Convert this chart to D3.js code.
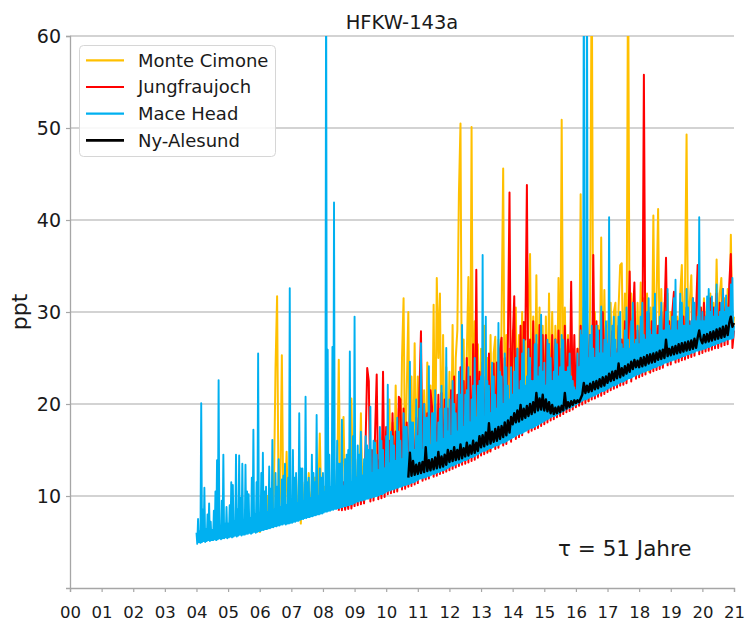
<!DOCTYPE html>
<html>
<head>
<meta charset="utf-8">
<script src="https://cdn.jsdelivr.net/npm/d3@7"></script>
<style>
  html, body { margin: 0; padding: 0; background: #ffffff; }
  svg { display: block; font-family: "DejaVu Sans", sans-serif; }
</style>
</head>
<body>
<svg id="chart" width="746" height="623"></svg>
<script>
// ---------------- data ----------------
const title = "HFKW-143a";
const yLabel = "ppt";
const note = "τ = 51 Jahre";
const xYears = d3.range(2000, 2022);
const xTickLabels = xYears.map(y => String(y % 100).padStart(2, "0"));
const yTickValues = [10, 20, 30, 40, 50, 60];
const seriesNames = ["Monte Cimone", "Jungfraujoch", "Mace Head", "Ny-Alesund"];

// Mace Head, samples every 0.025 yr from 2004.000
const maceHeadStart = 2004.0;
const maceHeadStep = 0.025;
const maceHead = [
  6.0,4.8, 7.5,5.0, 6.2,4.9, 20.1,5.0, 8.5,5.1, 10.9,5.0, 6.4,5.1, 8.0,5.2, 9.2,5.1, 7.2,5.2, 6.3,5.2, 8.4,5.3, 10.5,5.2, 13.9,5.3, 22.6,5.4, 6.8,5.3, 9.5,5.4, 14.5,5.4, 7.0,5.5, 8.8,5.4,
  7.0,5.5, 9.0,5.6, 11.5,5.5, 11.2,5.6, 7.2,5.7, 14.5,5.6, 8.5,5.7, 14.4,5.8, 9.8,5.7, 13.5,5.8, 7.4,5.8, 13.4,5.9, 10.5,5.9, 10.2,6.0, 7.6,5.9, 12.0,6.0, 17.2,6.1, 8.0,6.0, 11.5,6.1, 25.5,6.2,
  8.0,6.2, 12.5,6.3, 14.7,6.3, 10.5,6.4, 11.0,6.4, 8.2,6.5, 13.2,6.5, 10.8,6.6, 16.1,6.6, 8.5,6.7, 12.5,6.7, 11.0,6.8, 14.0,6.8, 8.8,6.9, 11.8,6.9, 12.2,7.0, 13.5,6.9, 9.0,7.0, 12.0,7.0, 32.6,7.1,
  9.0,7.1, 15.0,7.2, 12.0,7.2, 12.5,7.3, 9.2,7.3, 19.0,7.4, 13.0,7.5, 13.0,7.5, 9.5,7.6, 20.8,7.6, 11.5,7.7, 12.0,7.7, 9.8,7.8, 14.5,7.8, 12.5,7.9, 11.5,7.9, 18.8,8.0, 10.0,8.0, 13.0,8.1, 12.0,8.1,
  12.5,8.2, 10.5,8.3, 70,8.3, 25.9,8.4, 14.5,8.4, 11.0,8.5, 26.2,8.5, 41.9,8.6, 10.8,8.6, 16.0,8.7, 13.5,8.7, 13.5,8.8, 18.3,8.8, 11.0,8.9, 14.0,8.9, 14.5,9.0, 15.0,9.0, 25.7,9.1, 11.5,9.1, 16.5,9.2,
  29.5,9.3, 12.0,9.4, 15.5,9.4, 14.5,9.5, 17.0,9.5, 12.2,9.6, 14.0,9.6, 16.5,9.7, 15.5,9.7, 15.0,9.8, 19.7,9.8, 12.5,9.9, 16.0,9.9, 15.8,10.0, 14.5,10.0, 12.8,10.1, 17.5,10.2, 16.0,10.2, 15.0,10.3, 13.0,10.4,
  16.5,10.5, 22.1,10.6, 13.5,10.6, 17.0,10.7, 16.5,10.7, 15.5,10.8, 13.8,10.9, 18.5,10.9, 17.0,11.0, 16.0,11.0, 14.0,11.1, 19.0,11.2, 17.5,11.2, 17.5,11.3, 14.5,11.3, 24.6,11.4, 18.0,11.5, 18.0,11.5, 15.0,11.6, 20.5,11.7,
  16.5,11.8, 19.5,11.9, 26.6,11.9, 15.0,12.0, 20.0,12.0, 18.5,12.1, 18.5,12.2, 24.1,12.2, 15.5,12.3, 19.0,12.4, 19.0,12.4, 21.5,12.5, 15.8,12.6, 18.0,12.6, 19.5,12.7, 22.0,12.8, 16.2,12.8, 19.5,12.9, 26.1,13.0, 17.0,13.1,
  20.5,13.2, 16.5,13.3, 22.5,13.3, 20.0,13.4, 19.0,13.5, 17.0,13.6, 23.5,13.6, 21.0,13.7, 28.6,13.8, 17.5,13.9, 21.0,13.9, 21.5,14.0, 24.0,14.1, 18.0,14.2, 20.5,14.2, 22.0,14.3, 25.0,14.4, 18.5,14.5, 22.0,14.6, 22.5,14.7,
  23.0,14.8, 36.2,14.9, 18.5,14.9, 29.5,15.0, 22.5,15.1, 22.0,15.2, 19.0,15.2, 24.5,15.3, 23.0,15.4, 21.0,15.5, 19.5,15.5, 28.8,15.6, 23.5,15.7, 23.0,15.8, 20.0,15.8, 25.5,15.9, 24.0,16.0, 22.0,16.1, 20.5,16.2, 24.0,16.3,
  21.0,16.4, 23.5,16.5, 25.0,16.6, 26.0,16.7, 21.5,16.8, 22.5,16.8, 25.5,16.9, 27.0,17.0, 22.0,17.1, 23.0,17.2, 26.0,17.3, 25.0,17.4, 22.5,17.4, 22.5,17.5, 26.5,17.6, 27.5,17.7, 23.0,17.8, 24.0,17.9, 29.7,18.0, 23.5,18.1,
  24.5,18.2, 22.0,18.3, 27.0,18.4, 26.5,18.5, 25.0,18.6, 22.5,18.7, 23.5,18.7, 27.0,18.8, 26.5,18.9, 23.0,19.0, 24.0,19.1, 27.5,19.2, 27.0,19.3, 23.5,19.4, 23.5,19.5, 24.0,19.6, 25.5,19.6, 23.0,19.7, 22.5,19.8, 21.8,19.9,
  21.5,20.0, 25.5,20.1, 24.0,20.2, 28.0,20.3, 27.5,20.4, 70,20.5, 24.0,20.5, 70,20.6, 25.0,20.7, 27.5,20.8, 28.5,20.9, 26.0,20.9, 25.0,21.0, 28.5,21.1, 28.0,21.2, 25.5,21.3, 30.6,21.4, 25.5,21.4, 27.0,21.5, 29.0,21.6,
  26.5,21.7, 40.3,21.8, 25.0,21.9, 28.5,22.0, 29.5,22.0, 27.0,22.1, 25.5,22.2, 29.5,22.3, 30.0,22.4, 26.5,22.4, 26.0,22.5, 28.0,22.6, 30.5,22.7, 27.0,22.8, 26.0,22.8, 29.0,22.9, 31.0,23.0, 26.5,23.1, 27.0,23.2, 28.5,23.2,
  26.5,23.3, 29.5,23.4, 31.0,23.5, 27.5,23.5, 27.0,23.6, 30.0,23.7, 31.5,23.7, 28.0,23.8, 27.5,23.9, 30.5,24.0, 32.0,24.0, 27.5,24.1, 27.5,24.2, 29.5,24.2, 31.0,24.3, 28.0,24.4, 28.0,24.5, 30.0,24.5, 32.5,24.6, 28.5,24.7,
  28.0,24.7, 29.5,24.8, 31.5,24.8, 33.5,24.9, 28.0,25.0, 29.0,25.0, 32.0,25.1, 31.0,25.2, 28.5,25.2, 28.5,25.3, 32.5,25.4, 30.5,25.4, 28.5,25.5, 29.0,25.6, 31.5,25.6, 31.0,25.7, 29.0,25.8, 29.5,25.8, 40.3,25.9, 29.0,25.9,
  30.0,26.0, 29.0,26.0, 29.5,26.1, 31.7,26.2, 32.5,26.2, 30.0,26.3, 31.7,26.4, 29.5,26.4, 30.5,26.5, 33.0,26.6, 29.5,26.6, 30.0,26.7, 31.0,26.8, 32.5,26.8, 30.0,26.9, 31.8,27.0, 30.5,27.0, 30.5,27.1, 33.0,27.1, 33.7,27.2,
  28.5
];

// Monte Cimone, samples every 0.05 yr from 2006.00
const monteCimoneStart = 2006.0;
const monteCimoneStep = 0.05;
const monteCimone = [
  6.0, 8.0, 6.7, 9.5, 6.8, 10.0, 6.9, 8.5, 7.0, 11.0, 24.0, 31.7, 7.1, 10.5, 25.3, 7.3, 9.0, 14.8, 7.4, 9.5,
  7.5, 10.0, 7.6, 12.0, 7.7, 9.5, 7.0, 11.5, 7.9, 10.0, 8.0, 12.5, 8.1, 10.5, 8.2, 12.0, 8.3, 10.0, 16.8, 8.4,
  8.6, 11.0, 8.7, 12.5, 8.8, 10.5, 8.9, 13.0, 9.0, 11.0, 24.8, 9.1, 12.0, 18.6, 9.2, 12.5, 9.3, 11.5, 20.6, 9.5,
  12.5, 9.7, 14.0, 9.8, 19.0, 9.9, 13.5, 10.0, 15.0, 10.1, 12.5, 10.2, 14.5, 10.3, 16.0, 10.4, 13.0, 10.5, 15.5, 10.7,
  17.0, 10.9, 20.5, 11.0, 18.0, 11.1, 22.0, 11.2, 19.5, 11.3, 25.0, 31.5, 11.5, 21.5, 30.0, 11.7, 23.0, 11.8, 26.6, 12.0,
  23.0, 12.2, 25.0, 12.3, 21.5, 12.5, 24.5, 12.6, 22.0, 12.7, 30.8, 12.8, 33.7, 25.0, 32.0, 13.1, 27.5, 13.2, 24.0, 13.4,
  23.5, 13.6, 28.6, 13.8, 25.0, 28.0, 42.9, 50.5, 14.1, 27.0, 14.3, 25.5, 33.8, 14.5, 50.1, 14.7, 29.0, 14.8, 26.5, 15.0,
  26.0, 15.2, 28.5, 15.4, 25.0, 14.9, 27.5, 15.7, 25.5, 27.3, 15.9, 27.0, 16.0, 29.5, 45.6, 16.3, 27.5, 16.5, 26.0, 16.6,
  28.0, 16.8, 30.5, 17.0, 27.5, 17.2, 30.0, 17.4, 28.0, 17.5, 31.0, 36.3, 17.9, 29.5, 18.0, 34.0, 18.2, 30.5, 18.4, 28.5,
  18.6, 29.5, 18.8, 32.0, 19.0, 30.0, 19.2, 28.5, 19.4, 33.7, 19.5, 50.9, 19.7, 30.5, 19.9, 27.5, 20.0, 26.0, 20.2, 24.5,
  20.4, 26.0, 20.5, 42.8, 20.7, 30.5, 20.9, 29.0, 20.3, 31.0, 70, 21.3, 30.0, 21.5, 28.5, 21.7, 38.1, 21.8, 32.4, 22.0,
  29.0, 22.2, 31.0, 22.4, 30.0, 31.0, 22.6, 30.5, 35.1, 35.3, 22.9, 32.0, 23.0, 70, 23.2, 32.0, 23.3, 30.0, 23.5, 31.0,
  23.7, 33.2, 23.8, 31.5, 24.0, 32.0, 23.5, 30.5, 24.2, 40.5, 24.3, 31.5, 41.2, 24.6, 32.5, 24.7, 31.0, 24.8, 32.0, 25.0,
  30.0, 25.2, 31.0, 25.3, 29.5, 25.4, 32.0, 35.1, 25.6, 32.5, 49.3, 25.8, 31.0, 34.0, 25.9, 30.0, 26.0, 32.0, 26.1, 30.5,
  26.4, 31.5, 26.5, 30.5, 26.6, 32.0, 26.7, 31.0, 26.8, 35.7, 26.9, 32.0, 33.7, 27.1, 31.5, 27.2, 32.5, 27.3, 38.4, 27.5,
  29.5
];

// Jungfraujoch, samples every 0.05 yr from 2008.50
const jungfraujochStart = 2008.5;
const jungfraujochStep = 0.05;
const jungfraujoch = [
  8.4, 10.5, 8.45, 11.5, 8.5, 10.0, 8.6, 12.0, 8.65, 10.5,
  8.9, 12.0, 9.0, 13.5, 9.1, 11.5, 9.2, 16.0, 23.9, 22.5, 9.4, 15.0, 9.5, 17.0, 23.2, 9.65, 14.0, 9.75, 23.5, 9.9,
  17.5, 10.2, 16.0, 10.3, 19.0, 10.4, 17.0, 10.5, 20.8, 20.5, 10.7, 19.5, 10.8, 18.0, 11.0, 19.0, 11.1, 17.0, 11.25, 18.5,
  11.4, 21.0, 27.9, 11.65, 20.0, 11.8, 19.0, 11.9, 21.5, 19.7, 12.1, 20.0, 12.2, 21.0, 12.4, 21.2, 12.5, 20.5, 12.65, 19.5,
  12.8, 21.5, 12.95, 23.0, 13.1, 21.0, 13.25, 24.0, 13.4, 22.5, 13.5, 25.0, 13.65, 23.0, 13.8, 26.5, 13.95, 34.6, 14.15, 23.5,
  14.4, 24.5, 14.55, 23.0, 14.7, 25.5, 14.85, 24.0, 24.4, 15.1, 24.5, 15.25, 26.0, 27.2, 15.5, 25.0, 15.65, 27.0, 43.0, 15.9,
  26.5, 31.7, 16.2, 26.0, 16.4, 28.5, 16.6, 28.9, 27.0, 43.8, 16.9, 27.0, 17.1, 29.0, 17.25, 26.5, 17.4, 28.6, 17.6, 27.5,
  17.8, 27.5, 18.0, 26.5, 18.2, 27.5, 18.35, 27.0, 18.55, 28.0, 18.7, 26.0, 18.9, 28.5, 19.1, 27.0, 19.25, 33.3, 19.4, 27.5,
  19.65, 26.0, 19.8, 28.5, 19.95, 27.0, 20.1, 29.5, 20.3, 27.5, 20.5, 36.2, 20.6, 29.0, 20.8, 28.0, 20.9, 30.0, 21.1, 28.5,
  21.3, 27.5, 21.5, 27.9, 21.65, 26.0, 21.8, 28.5, 22.0, 27.0, 22.1, 29.0, 22.25, 27.5, 34.4, 22.45, 29.0, 33.2, 22.75, 28.0,
  22.9, 28.5, 23.05, 55.8, 23.2, 28.0, 29.9, 23.4, 29.0, 23.55, 30.5, 23.7, 28.5, 23.8, 30.0, 23.95, 29.5, 35.9, 24.2, 29.0,
  24.3, 30.0, 32.2, 24.5, 29.0, 24.6, 31.0, 24.75, 29.5, 24.85, 30.5, 25.0, 29.0, 25.1, 31.5, 25.25, 30.0, 35.1, 25.4, 30.5,
  25.55, 31.0, 25.7, 30.0, 25.8, 31.5, 25.9, 30.5, 26.05, 32.0, 26.1, 31.0, 26.25, 32.5, 26.4, 31.0, 26.5, 33.0, 36.3, 26.1,
  28.0
];

// Ny-Alesund, samples every 0.05 yr from 2010.70
const nyAlesundStart = 2010.7;
const nyAlesundStep = 0.05;
const nyAlesund = [
  12.0, 14.7, 12.2, 13.8, 12.3, 13.4,
  12.4, 13.6, 12.5, 13.7, 12.6, 15.3, 12.7, 13.9, 12.8, 14.0, 12.9, 14.2, 13.0, 14.8, 13.1, 14.3, 13.2, 14.5, 13.4, 15.0,
  13.7, 14.9, 13.8, 15.3, 13.9, 15.0, 14.0, 15.6, 14.1, 15.2, 14.3, 15.8, 14.4, 15.5, 14.6, 16.0, 14.7, 15.8, 14.9, 16.5,
  15.3, 16.6, 15.4, 16.9, 15.6, 17.9, 15.7, 17.0, 15.9, 17.3, 16.0, 17.5, 16.2, 17.6, 16.4, 18.0, 16.6, 18.2, 16.9, 18.6,
  17.8, 19.0, 18.0, 19.3, 18.1, 19.9, 18.3, 19.5, 18.5, 19.8, 18.7, 20.0, 18.9, 20.2, 19.1, 21.2, 19.3, 20.6, 19.4, 21.0,
  19.3, 20.5, 19.2, 20.2, 19.0, 19.9, 18.9, 19.6, 19.0, 19.7, 19.1, 19.8, 19.3, 21.2, 19.5, 20.2, 19.7, 20.3, 19.9, 20.4,
  20.1, 20.4, 20.2, 20.6, 21.0, 22.3, 21.2, 22.0, 21.3, 22.2, 21.4, 22.4, 21.6, 22.5, 21.7, 22.7, 21.9, 22.9, 22.0, 23.0,
  22.3, 23.3, 22.5, 23.5, 22.6, 23.6, 22.8, 24.4, 22.9, 23.9, 23.1, 24.1, 23.3, 24.3, 23.5, 24.6, 23.8, 24.8, 24.0, 24.7,
  24.0, 25.0, 24.1, 25.1, 24.2, 25.3, 24.4, 25.4, 24.5, 25.5, 24.6, 25.6, 24.8, 25.8, 24.9, 25.9, 25.0, 27.0, 25.2, 26.0,
  25.3, 26.2, 25.4, 26.3, 25.5, 26.5, 25.6, 26.6, 25.7, 26.7, 25.8, 26.8, 25.9, 26.9, 26.0, 27.1, 26.1, 27.2, 28.0, 27.0,
  26.6, 27.5, 26.7, 27.6, 26.8, 27.8, 26.9, 27.9, 27.0, 28.1, 27.1, 28.2, 27.2, 28.4, 27.3, 28.5, 27.5, 28.8, 29.5, 28.4,
  28.8
];

// ---------------- drawing ----------------
const W = 746, H = 623;
const margin = { left: 70, right: 12, top: 36, bottom: 35 };
const svg = d3.select("#chart");
svg.append("rect").attr("width", W).attr("height", H).attr("fill", "#ffffff");

const x = d3.scaleLinear().domain([2000, 2021]).range([margin.left, W - margin.right]);
const y = d3.scaleLinear().domain([0, 60]).range([H - margin.bottom, margin.top]);

// grid
svg.append("g").selectAll("line").data(yTickValues).join("line")
  .attr("x1", x(2000)).attr("x2", x(2021))
  .attr("y1", d => y(d)).attr("y2", d => y(d))
  .attr("stroke", "#c4c4c4").attr("stroke-width", 1.4);

// clip
svg.append("clipPath").attr("id", "plotclip").append("rect")
  .attr("x", x(2000)).attr("y", y(60))
  .attr("width", x(2021) - x(2000) + 3).attr("height", y(0) - y(60));

const seriesData = [
  { name: seriesNames[0], start: monteCimoneStart, step: monteCimoneStep, values: monteCimone, color: "#FFC000", w: 2.0 },
  { name: seriesNames[1], start: jungfraujochStart, step: jungfraujochStep, values: jungfraujoch, color: "#FF0000", w: 2.0 },
  { name: seriesNames[2], start: maceHeadStart, step: maceHeadStep, values: maceHead, color: "#00B0F0", w: 1.9 },
  { name: seriesNames[3], start: nyAlesundStart, step: nyAlesundStep, values: nyAlesund, color: "#000000", w: 2.4 }
];

const line = d3.line().x(d => x(d[0])).y(d => y(d[1]));
const gLines = svg.append("g").attr("clip-path", "url(#plotclip)");
seriesData.forEach(s => {
  const pts = s.values.map((v, i) => [s.start + i * s.step, v]);
  gLines.append("path").datum(pts)
    .attr("d", line)
    .attr("fill", "none")
    .attr("stroke", s.color)
    .attr("stroke-width", s.w)
    .attr("stroke-linejoin", "round");
});

// axes
const axisColor = "#a6a6a6";
const xAxis = d3.axisBottom(x).tickValues(xYears)
  .tickFormat((d, i) => xTickLabels[i]).tickSizeOuter(0).tickSize(4).tickPadding(14);
const gx = svg.append("g").attr("transform", `translate(0,${y(0)})`).call(xAxis);
gx.select(".domain").attr("stroke", axisColor).attr("stroke-width", 1.3);
gx.selectAll(".tick line").attr("stroke", axisColor).attr("stroke-width", 1.2);
gx.selectAll(".tick text").attr("font-family", "DejaVu Sans").attr("font-size", 16.5).attr("fill", "#1a1a1a");

const yAxis = d3.axisLeft(y).tickValues(yTickValues).tickSizeOuter(0).tickSize(4).tickPadding(5);
const gy = svg.append("g").attr("transform", `translate(${x(2000)},0)`).call(yAxis);
gy.select(".domain").attr("stroke", axisColor).attr("stroke-width", 1.3);
gy.selectAll(".tick line").attr("stroke", axisColor).attr("stroke-width", 1.2);
gy.selectAll(".tick text").attr("font-family", "DejaVu Sans").attr("font-size", 19).attr("fill", "#1a1a1a");

// title
svg.append("text").attr("x", (x(2000) + x(2021)) / 2).attr("y", 29)
  .attr("text-anchor", "middle").attr("font-size", 19.5).attr("fill", "#1a1a1a").text(title);

// y label
svg.append("text").attr("transform", `translate(27,${(y(0) + y(60)) / 2}) rotate(-90)`)
  .attr("text-anchor", "middle").attr("font-size", 22).attr("fill", "#1a1a1a").text(yLabel);

// note
svg.append("text").attr("x", 558).attr("y", 556)
  .attr("font-size", 21.5).attr("fill", "#1a1a1a").text(note);

// legend
const lg = svg.append("g");
lg.append("rect").attr("x", 79.5).attr("y", 45.5).attr("width", 196).attr("height", 111)
  .attr("rx", 4).attr("fill", "#ffffff").attr("fill-opacity", 0.85)
  .attr("stroke", "#d6d6d6").attr("stroke-width", 1);
seriesData.forEach((s, i) => {
  const ly = 60.3 + i * 26.7;
  lg.append("line").attr("x1", 86).attr("x2", 124).attr("y1", ly).attr("y2", ly)
    .attr("stroke", s.color).attr("stroke-width", i === 3 ? 2.6 : 2.2);
  lg.append("text").attr("x", 138).attr("y", ly + 6.3)
    .attr("font-size", 18).attr("fill", "#1a1a1a").text(s.name);
});
</script>
</body>
</html>
